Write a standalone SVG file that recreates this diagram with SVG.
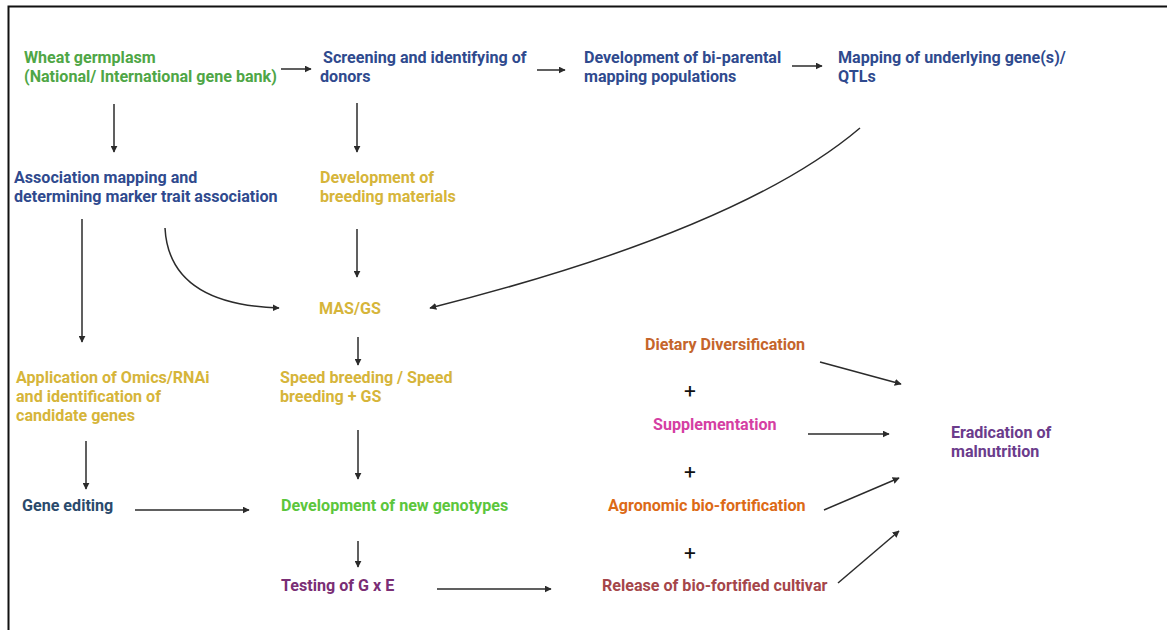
<svg xmlns="http://www.w3.org/2000/svg" width="1167" height="630" viewBox="0 0 1167 630">
<defs>
<style>
text{font-family:Roboto,"Liberation Sans",sans-serif;font-size:16.1px;font-weight:700}
.blue{fill:#2f4a8e}.green{fill:#4fa646}.gold{fill:#d6b53a}.lgreen{fill:#5cc63c}
.navy{fill:#2a4a6c}.purple{fill:#7a2e75}.orange1{fill:#c5652b}.pink{fill:#d53fa3}
.orange2{fill:#dc6a16}.rust{fill:#a5464a}.violet{fill:#6b3c8c}.plus{fill:#111;font-size:21px;font-weight:400}
.ln{fill:none;stroke:#2b2b2b;stroke-width:1.5}
</style>
<marker id="ah" viewBox="0 0 10 10" refX="9" refY="5" markerWidth="7" markerHeight="7" orient="auto" markerUnits="userSpaceOnUse">
<path d="M0,0 L10,5 L0,10 z" fill="#2b2b2b"/>
</marker>
<linearGradient id="g1" gradientUnits="userSpaceOnUse" x1="165" y1="228" x2="200" y2="290">
<stop offset="0" stop-color="#e4e4e4"/><stop offset="1" stop-color="#2b2b2b"/>
</linearGradient>
<linearGradient id="g2" gradientUnits="userSpaceOnUse" x1="860" y1="128" x2="790" y2="180">
<stop offset="0" stop-color="#e4e4e4"/><stop offset="1" stop-color="#2b2b2b"/>
</linearGradient>
</defs>
<rect width="1167" height="630" fill="#fff"/>
<path d="M8.5,630 V6.5 H1167" fill="none" stroke="#111" stroke-width="2"/>

<g id="n-wheat" class="green"><text x="24" y="63">Wheat germplasm</text><text x="24" y="82">(National/ International gene bank)</text></g>
<g id="n-screening" class="blue"><text x="323" y="63">Screening and identifying of</text><text x="320" y="82">donors</text></g>
<g id="n-biparental" class="blue"><text x="584" y="63">Development of bi-parental</text><text x="584" y="82">mapping populations</text></g>
<g id="n-mapping" class="blue"><text x="838" y="63">Mapping of underlying gene(s)/</text><text x="838" y="82">QTLs</text></g>
<g id="n-association" class="blue"><text x="14" y="183">Association mapping and</text><text x="14" y="202">determining marker trait association</text></g>
<g id="n-breeding" class="gold"><text x="320" y="183">Development of</text><text x="320" y="202">breeding materials</text></g>
<g id="n-masgs" class="gold"><text x="319" y="314">MAS/GS</text></g>
<g id="n-omics" class="gold"><text x="16" y="383">Application of Omics/RNAi</text><text x="16" y="402">and identification of</text><text x="16" y="421">candidate genes</text></g>
<g id="n-speed" class="gold"><text x="280" y="383">Speed breeding / Speed</text><text x="280" y="402">breeding + GS</text></g>
<g id="n-geneediting" class="navy"><text x="22" y="511">Gene editing</text></g>
<g id="n-newgeno" class="lgreen"><text x="281" y="511">Development of new genotypes</text></g>
<g id="n-testing" class="purple"><text x="281" y="591">Testing of G x E</text></g>
<g id="n-dietary" class="orange1"><text x="645" y="350">Dietary Diversification</text></g>
<g id="n-plus1"><text class="plus" x="690" y="398" text-anchor="middle">+</text></g>
<g id="n-supp" class="pink"><text x="653" y="430">Supplementation</text></g>
<g id="n-plus2"><text class="plus" x="690" y="479" text-anchor="middle">+</text></g>
<g id="n-agro" class="orange2"><text x="608" y="511">Agronomic bio-fortification</text></g>
<g id="n-plus3"><text class="plus" x="690" y="560" text-anchor="middle">+</text></g>
<g id="n-release" class="rust"><text x="602" y="591">Release of bio-fortified cultivar</text></g>
<g id="n-eradication" class="violet"><text x="951" y="438">Eradication of</text><text x="951" y="457">malnutrition</text></g>

<g id="connectors">
<path class="ln" d="M281,69 H311" marker-end="url(#ah)"/>
<path class="ln" d="M537,70 H565" marker-end="url(#ah)"/>
<path class="ln" d="M792,66 H822" marker-end="url(#ah)"/>
<path class="ln" d="M114,104 V152" marker-end="url(#ah)"/>
<path class="ln" d="M357,103 V152" marker-end="url(#ah)"/>
<path class="ln" d="M82,219 V342" marker-end="url(#ah)"/>
<path class="ln" d="M165,228 C168,285 215,306 279,308" stroke="url(#g1)" marker-end="url(#ah)"/>
<path class="ln" d="M357,229 V277" marker-end="url(#ah)"/>
<path class="ln" d="M860,128 Q740,230 430,308" stroke="url(#g2)" marker-end="url(#ah)"/>
<path class="ln" d="M358,337 V365" marker-end="url(#ah)"/>
<path class="ln" d="M86,441 V489" marker-end="url(#ah)"/>
<path class="ln" d="M358,430 V479" marker-end="url(#ah)"/>
<path class="ln" d="M135,510 H249" marker-end="url(#ah)"/>
<path class="ln" d="M358,541 V567" marker-end="url(#ah)"/>
<path class="ln" d="M437,589 H551" marker-end="url(#ah)"/>
<path class="ln" d="M820,362 L901,384" marker-end="url(#ah)"/>
<path class="ln" d="M808,434 H889" marker-end="url(#ah)"/>
<path class="ln" d="M824,510 L899,478" marker-end="url(#ah)"/>
<path class="ln" d="M838,583 L899,531" marker-end="url(#ah)"/>
</g>
</svg>
